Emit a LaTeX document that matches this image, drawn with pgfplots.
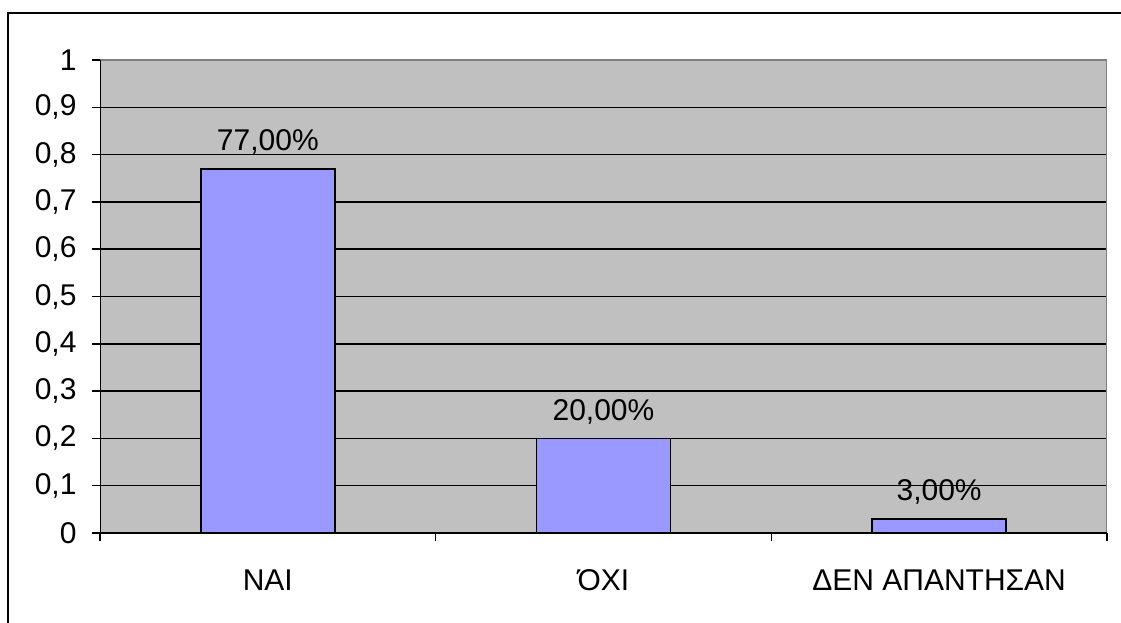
\documentclass[border=0pt]{standalone}
\usepackage{pgfplots}
\pgfplotsset{compat=1.18}
\usepackage{fontspec}
\setmainfont{Liberation Sans}
\definecolor{plotgray}{HTML}{C0C0C0}
\definecolor{barblue}{HTML}{9999FF}
\definecolor{framegray}{HTML}{808080}
\begin{document}
\begin{tikzpicture}[font=\fontsize{30bp}{34bp}\selectfont]
\path[use as bounding box] (0bp,0bp) rectangle (1121bp,623bp);
% chart frame
\draw[line width=2.5bp] (8bp,-5bp) -- (8bp,610bp) -- (1130bp,610bp);
\begin{axis}[
  at={(100bp,90bp)}, anchor=south west,
  scale only axis, width=1007bp, height=473bp,
  xmin=-0.5, xmax=2.5, ymin=0, ymax=1,
  axis background/.style={fill=plotgray},
  axis line style={draw=none},
  ytick={0,0.1,0.2,0.3,0.4,0.5,0.6,0.7,0.8,0.9},
  extra y ticks={1},
  extra y tick style={grid=none},
  ytick pos=left, xtick pos=lower,
  tick align=outside,
  major tick length=8bp,
  tick style={black, line width=1.5bp},
  ymajorgrids,
  major grid style={black, line width=1.5bp},
  /pgf/number format/use comma,
  /pgf/number format/assume math mode=true,
  ticklabel style={font=\fontsize{30bp}{34bp}\selectfont},
  yticklabel style={xshift=-12bp},
  xtick={-0.5,0.5,1.5,2.5},
  xticklabels={},
  extra x ticks={0,1,2},
  extra x tick labels={ΝΑΙ,ΌΧΙ,ΔΕΝ ΑΠΑΝΤΗΣΑΝ},
  extra x tick style={major tick length=0pt, grid=none,
    xticklabel style={yshift=-33bp}},
  ybar, bar width=134bp,
  point meta=explicit symbolic,
  nodes near coords,
  every node near coord/.append style={anchor=south, yshift=10bp,
    font=\fontsize{30bp}{34bp}\selectfont},
]
\addplot[fill=barblue, draw=black, line width=1.5bp] coordinates {
  (0,0.77) [77,00\%]
  (1,0.20) [20,00\%]
  (2,0.03) [3,00\%]
};
\draw[framegray, line width=2bp] (rel axis cs:0,1) -- (rel axis cs:1,1) -- (rel axis cs:1,0);
\draw[black, line width=2bp] (rel axis cs:0,1) -- (rel axis cs:0,0) -- (rel axis cs:1,0);
\end{axis}
\end{tikzpicture}
\end{document}
